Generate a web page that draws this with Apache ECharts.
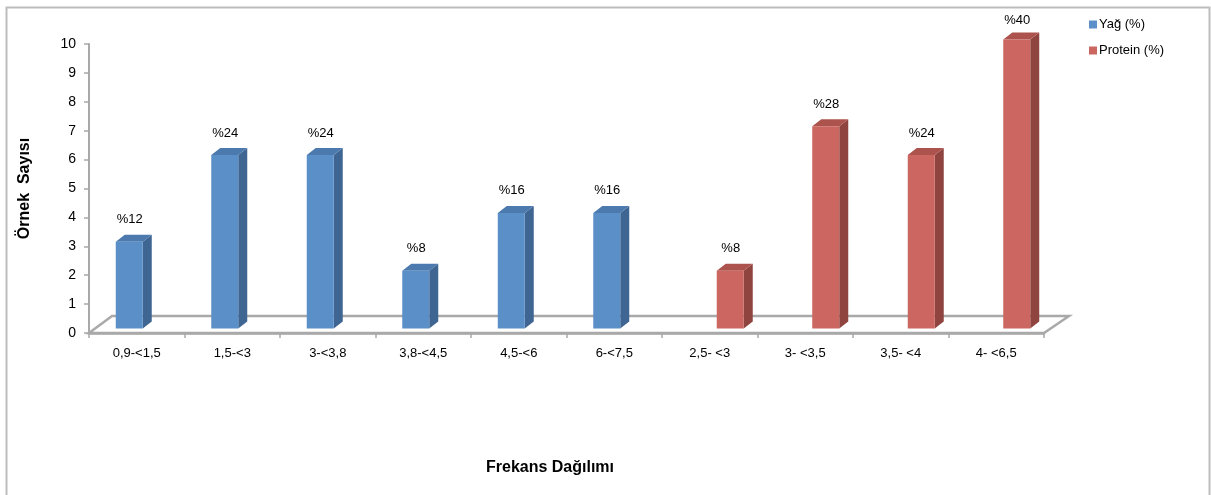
<!DOCTYPE html>
<html>
<head>
<meta charset="utf-8">
<script src="https://cdn.jsdelivr.net/npm/echarts@6/dist/echarts.min.js"></script>
<style>
  html, body { margin: 0; padding: 0; background: #fff; }
  #main { width: 1211px; height: 495px; }
</style>
</head>
<body>
<div id="main"></div>
<script>
var categories = ['0,9-<1,5', '1,5-<3', '3-<3,8', '3,8-<4,5', '4,5-<6', '6-<7,5', '2,5- <3', '3- <3,5', '3,5- <4', '4- <6,5'];
var yagValues = [3, 6, 6, 2, 4, 4, null, null, null, null];
var proteinValues = [null, null, null, null, null, null, 2, 7, 6, 10];
var percentLabels = ['%12', '%24', '%24', '%8', '%16', '%16', '%8', '%28', '%24', '%40'];
var yTicks = { min: 0, max: 10, interval: 1 };

var chart = echarts.init(document.getElementById('main'));

// renk: on yuz, yan yuz, ust yuz
var palette = [
  { front: '#5b8fc8', side: '#3f6592', top: '#4c7aae' },
  { front: '#cb6660', side: '#8f443f', top: '#ad534d' }
];

function toPairs(arr){
  var out = [];
  arr.forEach(function(v, i){
    if (v != null) out.push([i, v]);
  });
  return out;
}

// 3B gorunumlu cubuk
function renderBar3d(params, api){
  var idx = api.value(0), v = api.value(1);
  var base = api.coord([idx, 0]);
  var top = api.coord([idx, v]);
  var c = palette[params.seriesIndex - 1];
  var w = 27, dx = 9, dy = -7;
  var x0 = base[0] + 6.5 + (params.seriesIndex == 1 ? -27.5 : 0.5);
  var yb = base[1] - 4.5, yt = top[1] - 4.5;
  return {
    type: 'group',
    children: [
      { type: 'polygon', shape: { points: [[x0 + w, yb], [x0 + w + dx, yb + dy], [x0 + w + dx, yt + dy], [x0 + w, yt]] },
        style: { fill: c.side } },
      { type: 'polygon', shape: { points: [[x0, yt], [x0 + w, yt], [x0 + w + dx, yt + dy], [x0 + dx, yt + dy]] },
        style: { fill: c.top } },
      { type: 'rect', shape: { x: x0, y: yt, width: w, height: yb - yt },
        style: { fill: c.front } },
      { type: 'text', style: { text: percentLabels[idx], x: x0 + 14, y: Math.max(yt - 22, 20), align: 'center', verticalAlign: 'middle',
        fill: '#000', font: '13px "Liberation Sans"' } }
    ]
  };
}

// zemin
function renderFloor(params, api){
  var cs = params.coordSys;
  var yF = cs.y + cs.height;
  return {
    type: 'polygon',
    shape: { points: [[cs.x, yF], [cs.x + cs.width, yF], [cs.x + cs.width + 25, yF - 17], [cs.x + 23, yF - 17]] },
    style: { fill: 'none', stroke: '#a9a9a9', lineWidth: 2.5 }
  };
}

var option = {
  animation: false,
  textStyle: { fontFamily: 'Liberation Sans' },
  graphic: [{
    type: 'rect', left: 4, top: 5, z: -10,
    shape: { width: 1203, height: 510 },
    style: { fill: 'none', stroke: '#bdbdbd', lineWidth: 2 }
  }],
  legend: {
    data: ['Yağ (%)', 'Protein (%)'],
    orient: 'vertical',
    left: 1089, top: 18,
    padding: 0,
    icon: 'rect',
    itemWidth: 8, itemHeight: 8,
    itemGap: 13,
    textStyle: { fontSize: 13, color: '#000', padding: [0, 0, 0, -3] }
  },
  grid: { left: 89, top: 44, width: 955, height: 289 },
  xAxis: {
    type: 'category',
    data: categories,
    name: 'Frekans Dağılımı',
    nameLocation: 'middle',
    nameGap: 127,
    nameTextStyle: { fontSize: 16, fontWeight: 'bold', color: '#000', padding: [0, 33, 0, 0] },
    axisLine: { lineStyle: { color: '#a9a9a9', width: 2.5 } },
    axisTick: { show: true, length: 5, lineStyle: { color: '#a9a9a9', width: 1.5 } },
    axisLabel: { color: '#000', fontSize: 13, margin: 14, interval: 0 }
  },
  yAxis: {
    type: 'value',
    min: yTicks.min, max: yTicks.max, interval: yTicks.interval,
    name: 'Örnek  Sayısı',
    nameLocation: 'middle',
    nameGap: 56,
    nameTextStyle: { fontSize: 16, fontWeight: 'bold', color: '#000' },
    axisLine: { show: true, lineStyle: { color: '#a9a9a9', width: 2 } },
    axisTick: { show: true, length: 5, lineStyle: { color: '#a9a9a9', width: 1.5 } },
    axisLabel: { color: '#000', fontSize: 14, margin: 13 },
    splitLine: { show: false }
  },
  series: [
    {
      name: 'floor', type: 'custom', renderItem: renderFloor, data: [[0, 0]],
      encode: { x: 0, y: 1 }, clip: false, silent: true, z: 1
    },
    {
      name: 'Yağ (%)', type: 'custom', renderItem: renderBar3d, data: toPairs(yagValues),
      encode: { x: 0, y: 1 }, clip: false, z: 3,
      itemStyle: { color: palette[0].front }
    },
    {
      name: 'Protein (%)', type: 'custom', renderItem: renderBar3d, data: toPairs(proteinValues),
      encode: { x: 0, y: 1 }, clip: false, z: 3,
      itemStyle: { color: palette[1].front }
    }
  ]
};

chart.setOption(option);
</script>
</body>
</html>
